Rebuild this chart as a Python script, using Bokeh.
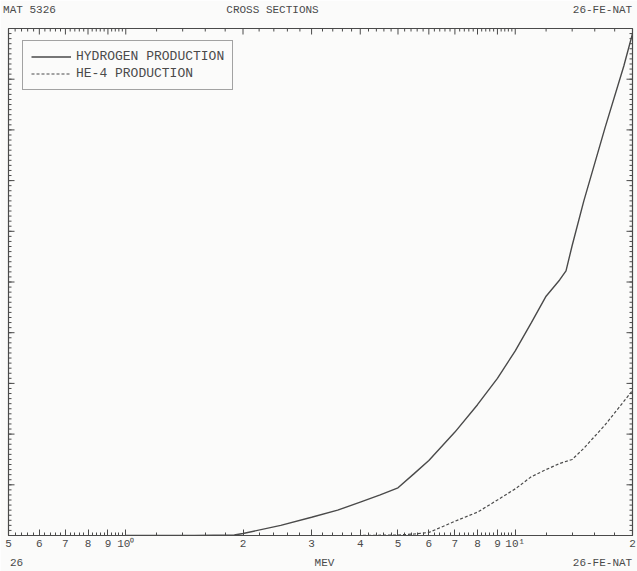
import math

from bokeh.plotting import figure
from bokeh.models import (LinearAxis, FixedTicker, Range1d, LinearScale,
                          Legend, LegendItem)
from bokeh.embed import file_html
from bokeh.resources import INLINE

# Incident neutron energy (MeV) and production cross sections (barns), 26-FE-NAT
energy_h = [1.0, 1.5, 1.9, 2.0, 2.5, 3.0, 3.5, 4.0, 4.5, 5.0, 5.5, 6.0, 7.0, 8.0,
            9.0, 10.0, 11.0, 12.0, 13.0, 13.5, 14.0, 15.0, 17.0, 19.0, 20.0]
hydrogen = [0.0, 0.0, 0.0005, 0.002, 0.010, 0.018, 0.025, 0.033, 0.040, 0.047,
            0.061, 0.074, 0.102, 0.129, 0.155, 0.182, 0.210, 0.236, 0.252, 0.261,
            0.286, 0.330, 0.402, 0.463, 0.495]

energy_he = [2.0, 4.0, 5.0, 5.5, 6.0, 7.0, 8.0, 9.0, 10.0, 11.0, 12.0, 13.0, 14.0,
             15.0, 17.0, 20.0]
helium4 = [0.0, 0.0, 0.0005, 0.0015, 0.003, 0.014, 0.023, 0.035, 0.046, 0.058,
           0.065, 0.071, 0.075, 0.086, 0.109, 0.143]

# Energy axis ticks and their labels
x_ticks = [0.5, 0.6, 0.7, 0.8, 0.9, 1, 2, 3, 4, 5, 6, 7, 8, 9, 10, 20]
x_tick_labels = ["5", "6", "7", "8", "9", "10\u2070", "2", "3", "4", "5", "6",
                 "7", "8", "9", "10\u00b9", "2"]

# Page captions (header row and footer row)
header_texts = ["MAT 5326", "CROSS SECTIONS", "26-FE-NAT"]
footer_texts = ["26", "MEV", "26-FE-NAT"]

INK = "#4a4a4a"
PAPER = "#fbfbfa"
FONT = "Liberation Mono"
X_MIN, X_MAX = 0.5, 20.0
Y_MIN, Y_MAX = 0.0, 0.5
FRAME_W = 624

# caption centres, in pixels from the left edge of the frame
header_pos = [21, 264, 594]
footer_pos = [8, 316, 594]

x_minor = []
for a, b in zip(x_ticks[:-1], x_ticks[1:]):
    step = (b - a) / 5.0
    x_minor += [a + k * step for k in range(1, 5)]

y_major = [round(0.05 * k, 4) for k in range(11)]
y_minor = [round(0.005 * k, 4) for k in range(101)]

p = figure(width=637, height=571, x_axis_type="log",
           x_range=Range1d(X_MIN, X_MAX), y_range=Range1d(Y_MIN, Y_MAX),
           y_axis_location=None,
           toolbar_location=None, output_backend="svg",
           min_border_left=8, min_border_right=5,
           min_border_top=28, min_border_bottom=36,
           background_fill_color=PAPER, border_fill_color=PAPER)
p.xgrid.visible = False
p.ygrid.visible = False
p.outline_line_color = INK
p.outline_line_width = 1.2

# --- energy axis (bottom) ---
bottom = p.xaxis[0]
bottom.ticker = FixedTicker(ticks=x_ticks, minor_ticks=x_minor)
bottom.major_label_overrides = {t: s for t, s in zip(x_ticks, x_tick_labels)}
bottom.axis_line_color = INK
bottom.major_tick_line_color = INK
bottom.minor_tick_line_color = INK
bottom.major_tick_in = 6
bottom.major_tick_out = 0
bottom.minor_tick_in = 3
bottom.minor_tick_out = 0
bottom.major_label_text_font = FONT
bottom.major_label_text_font_size = "11px"
bottom.major_label_text_color = INK
bottom.major_label_standoff = 2

# --- inward tick marks on the left, right and top edges ---
tick_style = dict(line_color=INK, line_width=1, length_units="screen")
p.ray(x=[X_MIN] * len(y_major), y=y_major, length=6, angle=0, **tick_style)
p.ray(x=[X_MIN] * len(y_minor), y=y_minor, length=3, angle=0, **tick_style)
p.ray(x=[X_MAX] * len(y_major), y=y_major, length=6, angle=math.pi, **tick_style)
p.ray(x=[X_MAX] * len(y_minor), y=y_minor, length=3, angle=math.pi, **tick_style)
p.ray(x=x_ticks, y=[Y_MAX] * len(x_ticks), length=6, angle=-math.pi / 2,
      **tick_style)
p.ray(x=x_minor, y=[Y_MAX] * len(x_minor), length=3, angle=-math.pi / 2,
      **tick_style)

# --- caption rows, laid out on a pixel range spanning the frame ---
p.extra_x_ranges = {"page": Range1d(0, FRAME_W)}
p.extra_x_scales = {"page": LinearScale()}


def caption_axis(positions, texts, standoff):
    ax = LinearAxis(x_range_name="page",
                    ticker=FixedTicker(ticks=positions, minor_ticks=[]))
    ax.major_label_overrides = {t: s for t, s in zip(positions, texts)}
    ax.axis_line_color = None
    ax.major_tick_line_color = None
    ax.minor_tick_line_color = None
    ax.major_tick_in = 0
    ax.major_tick_out = 0
    ax.minor_tick_in = 0
    ax.minor_tick_out = 0
    ax.major_label_standoff = standoff
    ax.major_label_text_font = FONT
    ax.major_label_text_font_size = "11px"
    ax.major_label_text_color = INK
    return ax


p.add_layout(caption_axis(header_pos, header_texts, 13), "above")
p.add_layout(caption_axis(footer_pos, footer_texts, 4), "below")

# --- cross-section curves ---
r_h = p.line(energy_h, hydrogen, line_color=INK, line_width=1.4)
r_he = p.line(energy_he, helium4, line_color=INK, line_width=1.2,
              line_dash="3 2")

legend = Legend(items=[LegendItem(label="HYDROGEN PRODUCTION", renderers=[r_h]),
                       LegendItem(label="HE-4 PRODUCTION", renderers=[r_he])],
                location=(14, 445), orientation="vertical",
                border_line_color=INK, border_line_width=1,
                background_fill_color=PAPER, background_fill_alpha=1.0,
                padding=8, spacing=2, margin=0,
                glyph_width=40, glyph_height=13, label_height=13,
                label_standoff=5, label_text_font=FONT,
                label_text_font_size="13px", label_text_color=INK)
p.add_layout(legend)

open("out.html", "w").write(file_html(p, INLINE))
